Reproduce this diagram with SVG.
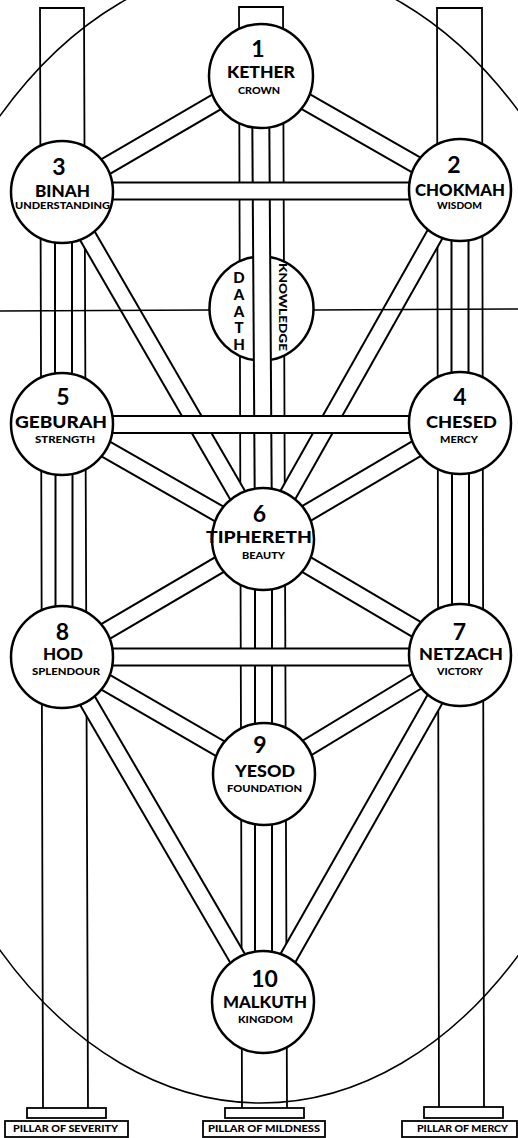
<svg xmlns="http://www.w3.org/2000/svg" width="518" height="1138" viewBox="0 0 518 1138">
<style>
.pl{fill:none;stroke:#000;stroke-width:1.8}
.ell{fill:none;stroke:#000;stroke-width:1.5}
.ab{fill:none;stroke:#000;stroke-width:1.6}
.pb{stroke:#000;stroke-width:19;stroke-linecap:butt}
.pw{stroke:#fff;stroke-width:15;stroke-linecap:butt}
.node{fill:#fff;stroke:#000;stroke-width:2.5}
text{font-family:Lato,"Liberation Sans",sans-serif;font-weight:bold;fill:#000;text-anchor:middle}
.num{font-size:23px}
.nm{font-size:17px;font-weight:900}
.sb{font-size:9.5px;font-weight:900}
.dl{font-size:15px;font-weight:900}
.kn{font-size:11px;font-weight:900}
.base{fill:#fff;stroke:#000;stroke-width:1.8}
.lb{font-size:9.5px;font-weight:900}
</style>
<defs>
<line id="p12" x1="261" y1="76" x2="460" y2="190"/>
<line id="p13" x1="261" y1="76" x2="62" y2="192"/>
<line id="p16" x1="260.5" y1="76" x2="263.5" y2="539"/>
<line id="p24" x1="460" y1="190" x2="460" y2="423"/>
<line id="p26" x1="460" y1="190" x2="263" y2="539"/>
<line id="p35" x1="63.5" y1="192" x2="63.5" y2="424"/>
<line id="p36" x1="62" y1="192" x2="263" y2="539"/>
<line id="p46" x1="460" y1="423" x2="263" y2="539"/>
<line id="p56" x1="62" y1="424" x2="263" y2="539"/>
<line id="p47" x1="460.5" y1="423" x2="460.5" y2="655"/>
<line id="p58" x1="64" y1="424" x2="64" y2="657"/>
<line id="p67" x1="263" y1="539" x2="460" y2="655"/>
<line id="p68" x1="263" y1="539" x2="62" y2="657"/>
<line id="p69" x1="263.5" y1="539" x2="263.5" y2="774"/>
<line id="p79" x1="460" y1="655" x2="264" y2="774"/>
<line id="p89" x1="62" y1="657" x2="264" y2="774"/>
<line id="p710" x1="460" y1="655" x2="263" y2="1002"/>
<line id="p810" x1="62" y1="657" x2="263" y2="1002"/>
<line id="p910" x1="263.5" y1="774" x2="263.5" y2="1002"/>
<line id="p23" x1="62" y1="191" x2="460" y2="191"/>
<line id="p45" x1="62" y1="424.5" x2="460" y2="424.5"/>
<line id="p78" x1="62" y1="657" x2="460" y2="657"/>
</defs>
<rect x="0" y="0" width="518" height="1138" fill="#fff"/>
<g id="pillars">
<polyline class="pl" points="43,1108 40,8 84,8 88,1108"/>
<polyline class="pl" points="242,1108 239,7 283,7 287,1108"/>
<polyline class="pl" points="439,1107 437,8 482,8 484,1107"/>
</g>
<ellipse id="veil" class="ell" cx="261" cy="533" rx="383" ry="570"/>
<g id="daath">
<circle class="node" cx="261.5" cy="308.5" r="52"/>
<text class="dl" x="239" y="283">D</text>
<text class="dl" x="239" y="300">A</text>
<text class="dl" x="239" y="316.5">A</text>
<text class="dl" x="239" y="333">T</text>
<text class="dl" x="239" y="350">H</text>
<text class="kn" transform="translate(278.5,307) rotate(90)" textLength="88" lengthAdjust="spacingAndGlyphs">KNOWLEDGE</text>
</g>
<g id="connectors">
<use href="#p12" class="pb"/><use href="#p12" class="pw"/>
<use href="#p13" class="pb"/><use href="#p13" class="pw"/>
<use href="#p16" class="pb"/><use href="#p16" class="pw"/>
<use href="#p24" class="pb"/><use href="#p24" class="pw"/>
<use href="#p35" class="pb"/><use href="#p35" class="pw"/>
<use href="#p26" class="pb"/><use href="#p26" class="pw"/>
<use href="#p36" class="pb"/><use href="#p36" class="pw"/>
<use href="#p46" class="pb"/><use href="#p46" class="pw"/>
<use href="#p56" class="pb"/><use href="#p56" class="pw"/>
<use href="#p47" class="pb"/><use href="#p47" class="pw"/>
<use href="#p58" class="pb"/><use href="#p58" class="pw"/>
<use href="#p67" class="pb"/><use href="#p67" class="pw"/>
<use href="#p68" class="pb"/><use href="#p68" class="pw"/>
<use href="#p69" class="pb"/><use href="#p69" class="pw"/>
<use href="#p79" class="pb"/><use href="#p79" class="pw"/>
<use href="#p89" class="pb"/><use href="#p89" class="pw"/>
<use href="#p710" class="pb"/><use href="#p710" class="pw"/>
<use href="#p810" class="pb"/><use href="#p810" class="pw"/>
<use href="#p910" class="pb"/><use href="#p910" class="pw"/>
<use href="#p23" class="pb"/><use href="#p23" class="pw"/>
<use href="#p45" class="pb"/><use href="#p45" class="pw"/>
<use href="#p78" class="pb"/><use href="#p78" class="pw"/>
</g>
<g id="abyss">
<line class="ab" x1="0" y1="311" x2="209.5" y2="310"/>
<line class="ab" x1="313.5" y1="310" x2="518" y2="309"/>
</g>
<g id="kether">
<circle class="node" cx="261" cy="76" r="52"/>
<text class="num" x="258" y="57">1</text>
<text class="nm" x="261" y="78" textLength="68" lengthAdjust="spacingAndGlyphs">KETHER</text>
<text class="sb" x="259" y="94" textLength="42" lengthAdjust="spacingAndGlyphs">CROWN</text>
</g>
<g id="chokmah">
<circle class="node" cx="460" cy="190" r="51"/>
<text class="num" x="454" y="173">2</text>
<text class="nm" x="460" y="196" textLength="90" lengthAdjust="spacingAndGlyphs">CHOKMAH</text>
<text class="sb" x="459.5" y="209" textLength="45" lengthAdjust="spacingAndGlyphs">WISDOM</text>
</g>
<g id="binah">
<circle class="node" cx="62" cy="192" r="51"/>
<text class="num" x="59" y="175">3</text>
<text class="nm" x="62.5" y="197" textLength="55" lengthAdjust="spacingAndGlyphs">BINAH</text>
<text class="sb" x="62.5" y="209" textLength="95" lengthAdjust="spacingAndGlyphs">UNDERSTANDING</text>
</g>
<g id="chesed">
<circle class="node" cx="460" cy="423" r="51"/>
<text class="num" x="460" y="405">4</text>
<text class="nm" x="461.5" y="428" textLength="71" lengthAdjust="spacingAndGlyphs">CHESED</text>
<text class="sb" x="459" y="443" textLength="38" lengthAdjust="spacingAndGlyphs">MERCY</text>
</g>
<g id="geburah">
<circle class="node" cx="62" cy="424" r="51"/>
<text class="num" x="63" y="405">5</text>
<text class="nm" x="61" y="428" textLength="92" lengthAdjust="spacingAndGlyphs">GEBURAH</text>
<text class="sb" x="65" y="443" textLength="60" lengthAdjust="spacingAndGlyphs">STRENGTH</text>
</g>
<g id="tiphereth">
<circle class="node" cx="263" cy="539" r="51"/>
<text class="num" x="259.5" y="522">6</text>
<text class="nm" x="259" y="543" textLength="106" lengthAdjust="spacingAndGlyphs">TIPHERETH</text>
<text class="sb" x="263.5" y="559" textLength="43" lengthAdjust="spacingAndGlyphs">BEAUTY</text>
</g>
<g id="netzach">
<circle class="node" cx="460" cy="655" r="51"/>
<text class="num" x="459.5" y="640">7</text>
<text class="nm" x="461" y="660" textLength="84" lengthAdjust="spacingAndGlyphs">NETZACH</text>
<text class="sb" x="460" y="675" textLength="46" lengthAdjust="spacingAndGlyphs">VICTORY</text>
</g>
<g id="hod">
<circle class="node" cx="62" cy="657" r="51"/>
<text class="num" x="62.5" y="640">8</text>
<text class="nm" x="63" y="660" textLength="40" lengthAdjust="spacingAndGlyphs">HOD</text>
<text class="sb" x="66" y="675" textLength="68" lengthAdjust="spacingAndGlyphs">SPLENDOUR</text>
</g>
<g id="yesod">
<circle class="node" cx="264" cy="774" r="51"/>
<text class="num" x="260" y="753">9</text>
<text class="nm" x="265" y="777" textLength="60" lengthAdjust="spacingAndGlyphs">YESOD</text>
<text class="sb" x="264.5" y="792" textLength="75" lengthAdjust="spacingAndGlyphs">FOUNDATION</text>
</g>
<g id="malkuth">
<circle class="node" cx="263" cy="1002" r="51"/>
<text class="num" x="264.5" y="987">10</text>
<text class="nm" x="265" y="1008" textLength="84" lengthAdjust="spacingAndGlyphs">MALKUTH</text>
<text class="sb" x="265.5" y="1023" textLength="55" lengthAdjust="spacingAndGlyphs">KINGDOM</text>
</g>
<g id="base-severity">
<rect class="base" x="27" y="1108" width="79" height="10"/>
<rect class="base" x="5" y="1121" width="123" height="16"/>
<text class="lb" x="65.5" y="1132" textLength="105" lengthAdjust="spacingAndGlyphs">PILLAR OF SEVERITY</text>
</g>
<g id="base-mildness">
<rect class="base" x="225" y="1108" width="79" height="10"/>
<rect class="base" x="203" y="1121" width="122" height="16"/>
<text class="lb" x="264" y="1132" textLength="112" lengthAdjust="spacingAndGlyphs">PILLAR OF MILDNESS</text>
</g>
<g id="base-mercy">
<rect class="base" x="424" y="1107" width="79" height="11"/>
<rect class="base" x="402" y="1121" width="115" height="16"/>
<text class="lb" x="462.5" y="1132" textLength="91" lengthAdjust="spacingAndGlyphs">PILLAR OF MERCY</text>
</g>
</svg>
